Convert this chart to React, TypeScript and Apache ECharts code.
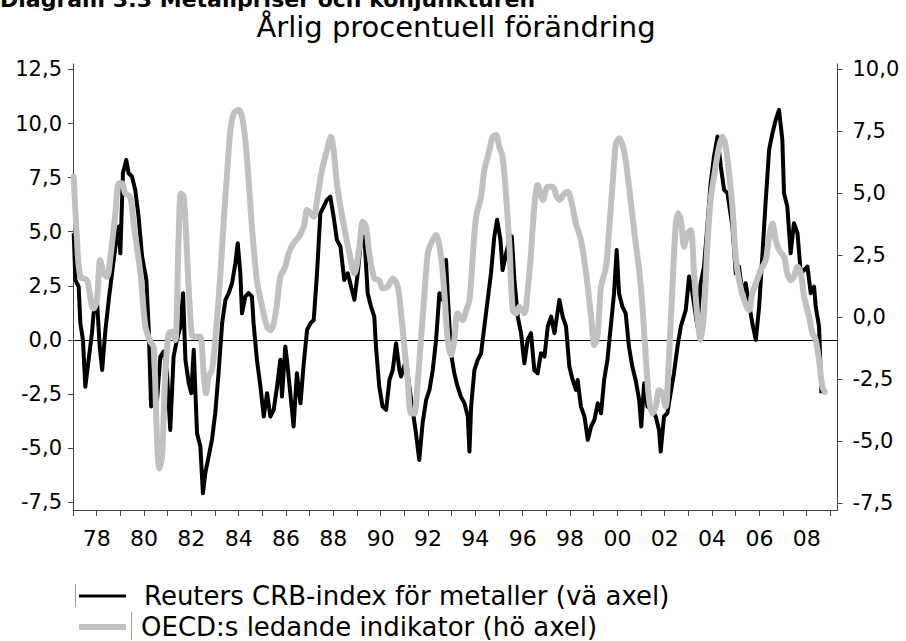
import React, { useEffect, useRef } from "react";
import * as echarts from "echarts";

const FONT = "DejaVu Sans";

const heading = "Diagram 3:3 Metallpriser och konjunkturen";
const title = "Årlig procentuell förändring";
const legendNames = [
  "Reuters CRB-index för metaller (vä axel)",
  "OECD:s ledande indikator (hö axel)",
];

const yearTicks = [
  1977, 1978, 1979, 1980, 1981, 1982, 1983, 1984, 1985, 1986, 1987, 1988,
  1989, 1990, 1991, 1992, 1993, 1994, 1995, 1996, 1997, 1998, 1999, 2000,
  2001, 2002, 2003, 2004, 2005, 2006, 2007, 2008, 2009,
];
const yearLabels = [
  1978, 1980, 1982, 1984, 1986, 1988, 1990, 1992, 1994, 1996, 1998, 2000,
  2002, 2004, 2006, 2008,
];
const leftTicks = [-7.5, -5, -2.5, 0, 2.5, 5, 7.5, 10, 12.5];
const rightTicks = [-7.5, -5, -2.5, 0, 2.5, 5, 7.5, 10];

// Reuters CRB metals index, annual % change (left axis) [decimal year, value]
const crbSeries: [number, number][] = [
  [1977.03, 4.93], [1977.1, 2.77], [1977.24, 2.46], [1977.31, 0.77], [1977.42, 0.0],
  [1977.52, -2.16], [1977.66, -0.92], [1977.8, 0.31], [1977.87, 1.23], [1978.01, 1.85],
  [1978.13, -0.31], [1978.23, -1.39], [1978.37, 0.46], [1978.51, 1.85], [1978.65, 3.08],
  [1978.79, 4.31], [1978.93, 5.24], [1979.0, 4.0], [1979.11, 7.7], [1979.25, 8.32],
  [1979.35, 7.7], [1979.49, 7.55], [1979.63, 6.93], [1979.77, 5.7], [1979.92, 3.85],
  [1980.1, 2.77], [1980.2, 0.46], [1980.3, -3.08], [1980.41, -1.54], [1980.55, -2.77],
  [1980.69, -0.77], [1980.83, -0.54], [1980.97, -1.54], [1981.11, -4.16], [1981.25, -0.77],
  [1981.39, 0.0], [1981.54, 0.62], [1981.65, 2.16], [1981.75, -0.92], [1981.89, -2.0],
  [1982.0, -2.46], [1982.1, -0.46], [1982.24, -4.31], [1982.38, -4.93], [1982.49, -7.09],
  [1982.59, -6.16], [1982.73, -5.39], [1982.87, -4.62], [1983.01, -3.39], [1983.15, -1.54],
  [1983.3, 0.77], [1983.44, 1.85], [1983.58, 2.16], [1983.72, 2.62], [1983.86, 3.54],
  [1983.96, 4.47], [1984.07, 3.08], [1984.14, 1.23], [1984.28, 2.0], [1984.42, 2.16],
  [1984.56, 2.0], [1984.63, 0.77], [1984.77, -0.92], [1984.92, -2.16], [1985.06, -3.54],
  [1985.2, -2.46], [1985.34, -3.54], [1985.48, -3.23], [1985.62, -2.16], [1985.76, -0.92],
  [1985.83, -2.62], [1985.97, -0.31], [1986.04, -0.92], [1986.18, -2.46], [1986.32, -4.0],
  [1986.46, -1.54], [1986.61, -2.93], [1986.75, -1.08], [1986.89, 0.46], [1987.03, 0.77],
  [1987.17, 0.92], [1987.31, 3.08], [1987.45, 5.85], [1987.59, 6.16], [1987.73, 6.47],
  [1987.87, 6.62], [1988.01, 5.7], [1988.15, 4.62], [1988.3, 4.31], [1988.46, 2.77],
  [1988.61, 3.08], [1988.75, 2.46], [1988.89, 1.85], [1989.03, 3.08], [1989.17, 4.62],
  [1989.31, 4.78], [1989.45, 2.16], [1989.59, 1.54], [1989.73, 1.08], [1989.8, -0.31],
  [1989.94, -2.16], [1990.08, -3.08], [1990.23, -3.23], [1990.37, -1.85], [1990.51, -1.39],
  [1990.65, -0.15], [1990.79, -1.39], [1990.86, -1.69], [1991.07, -0.92], [1991.21, -2.16],
  [1991.35, -3.23], [1991.49, -4.31], [1991.63, -5.55], [1991.77, -3.85], [1991.92, -2.77],
  [1992.06, -2.31], [1992.2, -1.39], [1992.34, 0.0], [1992.48, 2.16], [1992.62, 1.85],
  [1992.76, 3.7], [1992.83, 2.16], [1992.97, -0.62], [1993.11, -1.54], [1993.25, -2.16],
  [1993.39, -2.62], [1993.54, -2.93], [1993.68, -3.54], [1993.75, -5.16], [1993.82, -3.08],
  [1993.96, -1.39], [1994.1, -0.92], [1994.24, -0.62], [1994.38, 0.62], [1994.52, 1.85],
  [1994.66, 3.08], [1994.8, 4.78], [1994.92, 5.55], [1995.06, 4.62], [1995.15, 3.23],
  [1995.3, 4.0], [1995.44, 4.62], [1995.54, 4.78], [1995.65, 2.77], [1995.79, 1.08],
  [1995.93, 0.31], [1996.07, -1.08], [1996.21, 0.0], [1996.35, 0.31], [1996.49, -1.39],
  [1996.63, -1.54], [1996.77, -0.62], [1996.92, -0.77], [1997.06, 0.62], [1997.2, 1.08],
  [1997.34, 0.31], [1997.55, 1.85], [1997.69, 1.08], [1997.83, 0.62], [1997.97, -1.23],
  [1998.11, -1.85], [1998.25, -2.31], [1998.32, -1.85], [1998.46, -3.08], [1998.61, -3.54],
  [1998.75, -4.62], [1998.89, -4.0], [1999.03, -3.7], [1999.17, -2.93], [1999.31, -3.39],
  [1999.44, -1.85], [1999.58, -0.92], [1999.72, 0.62], [1999.86, 2.16], [1999.97, 4.16],
  [2000.07, 2.16], [2000.21, 1.54], [2000.35, 1.23], [2000.49, -0.31], [2000.63, -1.23],
  [2000.77, -1.85], [2000.92, -2.77], [2001.01, -4.0], [2001.13, -2.0], [2001.27, -3.08],
  [2001.48, -3.23], [2001.62, -3.54], [2001.76, -4.16], [2001.83, -5.16], [2001.97, -3.54],
  [2002.11, -3.39], [2002.25, -2.46], [2002.39, -1.54], [2002.54, -0.31], [2002.68, 0.62],
  [2002.89, 1.39], [2003.03, 2.93], [2003.17, 2.16], [2003.38, 0.62], [2003.52, 2.62],
  [2003.66, 3.39], [2003.8, 5.24], [2003.94, 7.24], [2004.08, 8.47], [2004.23, 9.4],
  [2004.37, 8.01], [2004.51, 6.93], [2004.65, 6.78], [2004.86, 5.24], [2005.0, 3.08],
  [2005.14, 3.39], [2005.28, 2.16], [2005.42, 2.62], [2005.56, 1.69], [2005.7, 0.77],
  [2005.85, 0.0], [2005.99, 1.54], [2006.13, 4.0], [2006.27, 6.47], [2006.41, 8.78],
  [2006.55, 9.55], [2006.69, 10.17], [2006.83, 10.63], [2006.97, 9.24], [2007.04, 6.78],
  [2007.18, 6.16], [2007.32, 4.0], [2007.46, 5.39], [2007.61, 4.93], [2007.75, 3.08],
  [2007.89, 3.23], [2008.03, 3.39], [2008.17, 2.16], [2008.31, 2.46], [2008.38, 1.54],
  [2008.52, 0.62], [2008.62, -2.46],
];

// OECD leading indicator, annual % change (right axis) [decimal year, value]
const oecdSeries: [number, number][] = [
  [1977.03, 5.67], [1977.17, 3.11], [1977.31, 1.63], [1977.59, 1.49], [1977.8, 0.42],
  [1977.87, 0.35], [1978.01, 0.69], [1978.15, 2.3], [1978.3, 1.76], [1978.44, 1.63],
  [1978.58, 2.44], [1978.79, 4.19], [1978.93, 5.4], [1979.07, 5.4], [1979.21, 4.99],
  [1979.42, 4.86], [1979.56, 3.78], [1979.85, 1.76], [1980.06, -0.39], [1980.27, -1.0],
  [1980.41, -1.2], [1980.55, -4.97], [1980.65, -6.11], [1980.76, -5.64], [1980.9, -2.28],
  [1981.04, -0.66], [1981.18, -0.59], [1981.32, -0.93], [1981.46, 3.11], [1981.56, 4.99],
  [1981.68, 4.86], [1981.79, 3.11], [1981.93, 0.42], [1982.07, -0.79], [1982.24, -0.79],
  [1982.38, -0.79], [1982.52, -2.28], [1982.62, -3.08], [1982.73, -2.41], [1982.87, -2.14],
  [1983.01, -0.93], [1983.23, 1.76], [1983.37, 3.92], [1983.51, 5.8], [1983.65, 7.55],
  [1983.79, 8.23], [1984.0, 8.36], [1984.14, 8.09], [1984.28, 7.15], [1984.42, 5.53],
  [1984.56, 3.65], [1984.77, 1.49], [1984.99, 0.42], [1985.2, -0.39], [1985.34, -0.53],
  [1985.48, -0.26], [1985.62, 0.55], [1985.76, 1.63], [1985.97, 2.03], [1986.11, 2.57],
  [1986.32, 2.98], [1986.54, 3.24], [1986.75, 3.65], [1986.89, 4.32], [1987.03, 4.19],
  [1987.17, 4.05], [1987.31, 4.73], [1987.52, 5.94], [1987.73, 6.74], [1987.9, 7.28],
  [1988.01, 6.74], [1988.15, 5.4], [1988.3, 4.46], [1988.51, 3.38], [1988.68, 2.57],
  [1988.89, 1.76], [1989.1, 2.84], [1989.24, 3.85], [1989.38, 3.65], [1989.52, 2.57],
  [1989.73, 1.56], [1989.94, 1.49], [1990.08, 1.16], [1990.3, 1.23], [1990.51, 1.56],
  [1990.72, 1.23], [1990.86, 0.15], [1991.0, -1.2], [1991.14, -2.54], [1991.28, -3.89],
  [1991.42, -3.89], [1991.56, -2.68], [1991.7, -0.93], [1991.85, 0.96], [1991.99, 2.57],
  [1992.13, 2.98], [1992.34, 3.31], [1992.55, 2.44], [1992.69, 0.96], [1992.83, -0.93],
  [1992.97, -1.53], [1993.11, -0.93], [1993.25, 0.15], [1993.46, -0.12], [1993.61, 0.28],
  [1993.75, 0.69], [1993.89, 2.44], [1994.03, 4.05], [1994.24, 4.86], [1994.38, 5.94],
  [1994.59, 6.74], [1994.73, 7.28], [1994.87, 7.35], [1995.01, 6.88], [1995.15, 6.48],
  [1995.3, 4.86], [1995.44, 2.84], [1995.58, 0.28], [1995.72, 0.15], [1995.86, 0.42],
  [1996.07, 0.15], [1996.21, 1.09], [1996.35, 2.57], [1996.49, 4.46], [1996.63, 5.33],
  [1996.85, 4.73], [1997.06, 5.26], [1997.27, 5.26], [1997.41, 4.93], [1997.55, 4.73],
  [1997.76, 4.99], [1997.9, 5.06], [1998.04, 4.73], [1998.25, 3.78], [1998.46, 3.11],
  [1998.68, 1.76], [1998.89, 0.01], [1999.03, -1.13], [1999.17, -0.66], [1999.31, 1.23],
  [1999.52, 2.03], [1999.66, 3.65], [1999.8, 5.4], [1999.94, 7.01], [2000.08, 7.22],
  [2000.3, 6.61], [2000.51, 5.13], [2000.72, 3.38], [2000.92, 1.9], [2001.06, 0.42],
  [2001.2, -1.6], [2001.34, -3.35], [2001.48, -3.89], [2001.62, -3.62], [2001.76, -2.95],
  [2001.9, -3.08], [2002.04, -3.62], [2002.18, -1.6], [2002.32, 1.09], [2002.46, 3.65],
  [2002.56, 4.19], [2002.68, 3.92], [2002.82, 2.84], [2002.96, 3.38], [2003.1, 3.51],
  [2003.24, 1.76], [2003.38, 0.01], [2003.52, -0.93], [2003.66, 0.15], [2003.8, 2.84],
  [2003.94, 4.73], [2004.15, 6.07], [2004.3, 6.88], [2004.44, 7.28], [2004.58, 6.88],
  [2004.72, 5.8], [2004.86, 4.46], [2005.0, 2.44], [2005.14, 1.49], [2005.35, 0.69],
  [2005.56, 0.28], [2005.7, 0.96], [2005.85, 1.36], [2006.06, 1.9], [2006.27, 2.3],
  [2006.41, 3.24], [2006.55, 3.78], [2006.69, 3.11], [2006.83, 2.71], [2007.04, 2.44],
  [2007.18, 1.76], [2007.32, 1.49], [2007.46, 1.63], [2007.61, 2.03], [2007.75, 1.76],
  [2007.89, 0.82], [2008.1, 0.01], [2008.24, -0.66], [2008.38, -0.93], [2008.52, -1.74],
  [2008.66, -2.81], [2008.76, -3.02],
];

const fmtComma = (v: number) => v.toFixed(1).replace(".", ",");
const fmtYear = (v: number) => String(Math.round(v) % 100).padStart(2, "0");

const AXIS_COLOR = "#444";

export default function App() {
  const ref = useRef<HTMLDivElement>(null);

  useEffect(() => {
    if (!ref.current) return;
    const chart = echarts.init(ref.current, undefined, { renderer: "svg" });

    const yAxisCommon = {
      type: "value" as const,
      splitLine: { show: false },
      axisLine: { show: true, onZero: false, lineStyle: { color: AXIS_COLOR, width: 1 } },
    };

    chart.setOption({
      animation: false,
      backgroundColor: "#ffffff",
      grid: { left: 73, right: 68.5, top: 64, bottom: 131, containLabel: false },
      xAxis: {
        type: "value",
        min: 1977,
        max: 2009.3,
        splitLine: { show: false },
        axisLine: { show: true, onZero: false, lineStyle: { color: AXIS_COLOR, width: 1 } },
        axisTick: {
          show: true,
          customValues: yearTicks,
          length: 6,
          lineStyle: { color: AXIS_COLOR, width: 1 },
        },
        axisLabel: {
          customValues: yearLabels,
          formatter: (v: number) => fmtYear(v),
          fontFamily: FONT,
          fontSize: 22,
          color: "#000",
          margin: 17,
        },
      },
      yAxis: [
        {
          ...yAxisCommon,
          position: "left",
          min: -7.86,
          max: 12.75,
          axisTick: {
            show: true,
            customValues: leftTicks,
            length: 5,
            lineStyle: { color: AXIS_COLOR, width: 1 },
          },
          axisLabel: {
            customValues: leftTicks,
            formatter: (v: number) => fmtComma(v),
            fontFamily: FONT,
            fontSize: 21,
            color: "#000",
            margin: 11,
          },
        },
        {
          ...yAxisCommon,
          position: "right",
          min: -7.79,
          max: 10.22,
          axisTick: {
            show: true,
            customValues: rightTicks,
            length: 5,
            lineStyle: { color: AXIS_COLOR, width: 1 },
          },
          axisLabel: {
            customValues: rightTicks,
            formatter: (v: number) => fmtComma(v),
            fontFamily: FONT,
            fontSize: 21,
            color: "#000",
            margin: 15,
          },
        },
      ],
      series: [
        {
          name: legendNames[0],
          type: "line",
          yAxisIndex: 0,
          data: crbSeries,
          symbol: "none",
          showSymbol: false,
          z: 2,
          lineStyle: { color: "#000000", width: 4, join: "round" },
          markLine: {
            silent: true,
            z: 2,
            symbol: ["none", "none"],
            label: { show: false },
            lineStyle: { color: "#000000", width: 1, type: "solid" },
            data: [{ yAxis: 0 }],
          },
        },
        {
          name: legendNames[1],
          type: "line",
          yAxisIndex: 1,
          data: oecdSeries,
          symbol: "none",
          showSymbol: false,
          smooth: 0.3,
          z: 3,
          lineStyle: { color: "#c0c0c0", width: 6, cap: "round", join: "round" },
        },
      ],
      graphic: [
        {
          type: "text",
          x: 0,
          y: -1,
          style: {
            text: heading,
            fontFamily: FONT,
            fontWeight: "bold",
            fontSize: 22,
            fill: "#000",
            align: "left",
            verticalAlign: "middle",
          },
        },
        {
          type: "text",
          x: 456,
          y: 27,
          style: {
            text: title,
            fontFamily: FONT,
            fontSize: 29,
            fill: "#000",
            align: "center",
            verticalAlign: "middle",
          },
        },
        {
          type: "line",
          shape: { x1: 75.5, y1: 584, x2: 75.5, y2: 607 },
          style: { stroke: "#9a9a9a", lineWidth: 1 },
        },
        {
          type: "line",
          shape: { x1: 131.5, y1: 612, x2: 131.5, y2: 640 },
          style: { stroke: "#9a9a9a", lineWidth: 1 },
        },
        {
          type: "line",
          shape: { x1: 79, y1: 596, x2: 126, y2: 596 },
          style: { stroke: "#000", lineWidth: 3 },
        },
        {
          type: "line",
          shape: { x1: 79, y1: 627, x2: 126, y2: 627 },
          style: { stroke: "#c0c0c0", lineWidth: 6 },
        },
        {
          type: "text",
          x: 144,
          y: 596,
          style: {
            text: legendNames[0],
            fontFamily: FONT,
            fontSize: 26,
            fill: "#000",
            align: "left",
            verticalAlign: "middle",
          },
        },
        {
          type: "text",
          x: 141,
          y: 627,
          style: {
            text: legendNames[1],
            fontFamily: FONT,
            fontSize: 26,
            fill: "#000",
            align: "left",
            verticalAlign: "middle",
          },
        },
      ],
    });

    return () => {
      chart.dispose();
    };
  }, []);

  return (
    <div
      ref={ref}
      style={{ position: "fixed", left: 0, top: 0, width: 906, height: 641, background: "#fff" }}
    />
  );
}
